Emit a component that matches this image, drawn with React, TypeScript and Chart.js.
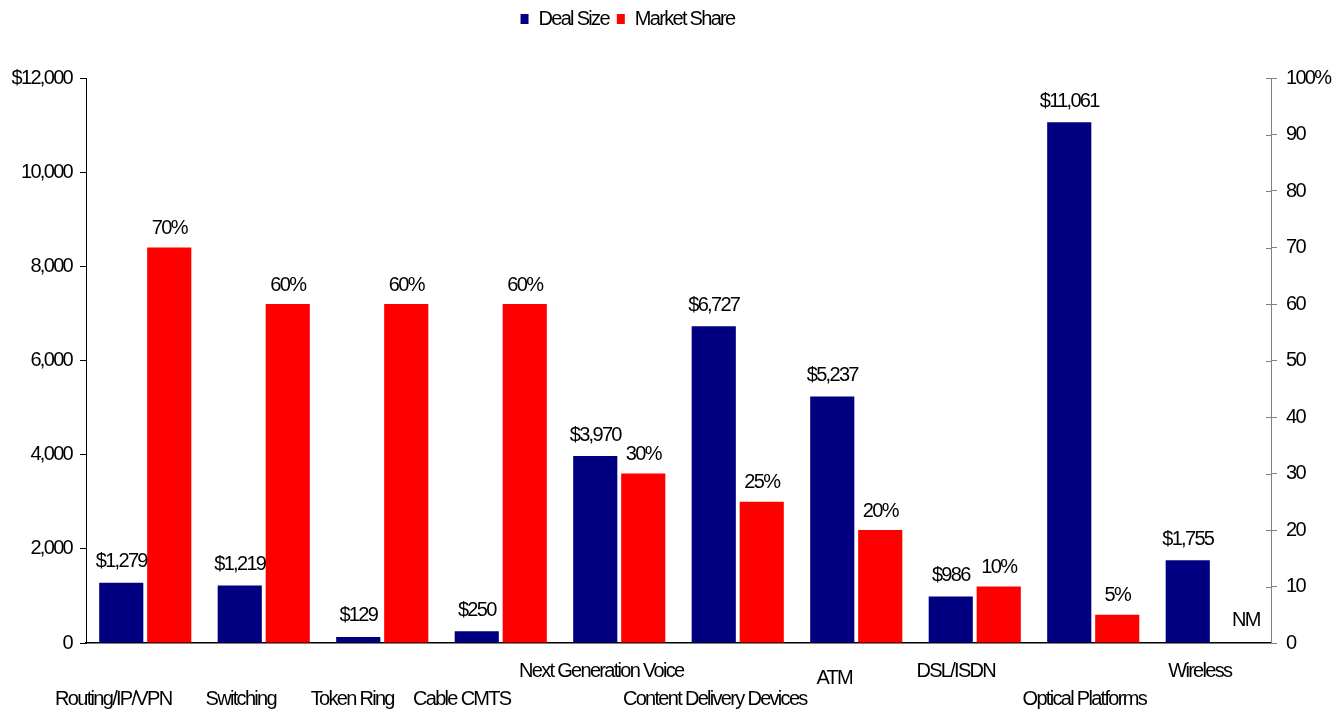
import { useEffect, useRef } from 'react';
import { Chart, registerables } from 'chart.js';

Chart.register(...registerables);

const categories = [
  'Routing/IP/VPN',
  'Switching',
  'Token Ring',
  'Cable CMTS',
  'Next Generation Voice',
  'Content Delivery Devices',
  'ATM',
  'DSL/ISDN',
  'Optical Platforms',
  'Wireless',
];
const dealSize = [1279, 1219, 129, 250, 3970, 6727, 5237, 986, 11061, 1755];
const marketShare: (number | null)[] = [70, 60, 60, 60, 30, 25, 20, 10, 5, null];
const leftTickLabels = ['0', '2,000', '4,000', '6,000', '8,000', '10,000', '$12,000'];
const rightTickLabels = ['0', '10', '20', '30', '40', '50', '60', '70', '80', '90', '100%'];
const missingLabel = 'NM';

// styling (not data)
const FONT = "'Liberation Sans', Arial, sans-serif";
const FS = 20;
const LS = '-1.7px';
const xLabelDy = [56, 56, 56, 56, 28, 56, 35, 28, 56, 28];
const xLabelDx = [-32, -23, -30, -39, -18, -23, -22, -19, -9, -12];

export default function App() {
  const ref = useRef<HTMLCanvasElement>(null);

  useEffect(() => {
    const canvas = ref.current;
    if (!canvas) return;

    const spacing = {
      id: 'spacing',
      beforeUpdate(chart: any) {
        chart.ctx.letterSpacing = LS;
      },
      beforeDraw(chart: any) {
        chart.ctx.letterSpacing = LS;
      },
      afterInit(chart: any) {
        const lg = chart.legend;
        if (lg) {
          const orig = lg.fit.bind(lg);
          lg.fit = function () {
            orig();
            this.height = 78;
            this.minSize = { width: this.width, height: 78 };
          };
          const origDraw = lg.draw.bind(lg);
          lg.draw = function () {
            const c = this.ctx;
            c.save();
            c.translate(-44, 1);
            origDraw();
            c.restore();
          };
        }
      },
    };

    const labelsPlugin = {
      id: 'valueLabels',
      afterDatasetsDraw(chart: any) {
        const ctx = chart.ctx;
        ctx.save();
        // inner halves of right-axis ticks
        const y1 = chart.scales.y1;
        ctx.strokeStyle = '#808080';
        ctx.lineWidth = 1;
        y1.ticks.forEach((t: any) => {
          const py = Math.round(y1.getPixelForValue(t.value)) + 0.5;
          ctx.beginPath();
          ctx.moveTo(y1.left - 5, py);
          ctx.lineTo(y1.left, py);
          ctx.stroke();
        });

        ctx.letterSpacing = LS;
        ctx.font = `${FS}px ${FONT}`;
        ctx.fillStyle = '#000';
        ctx.textAlign = 'center';
        ctx.textBaseline = 'middle';
        const m0 = chart.getDatasetMeta(0);
        m0.data.forEach((el: any, i: number) => {
          ctx.fillText('$' + dealSize[i].toLocaleString('en-US'), el.x, el.y - 21);
        });
        const m1 = chart.getDatasetMeta(1);
        m1.data.forEach((el: any, i: number) => {
          const v = marketShare[i];
          if (v == null) {
            ctx.fillText(missingLabel, el.x + 10, y1.getPixelForValue(0) - 23);
          } else {
            ctx.fillText(v + '%', el.x, el.y - 19);
          }
        });
        // category labels
        const xs = chart.scales.x;
        const base = chart.chartArea.bottom;
        categories.forEach((c, i) => {
          ctx.fillText(c, xs.getPixelForValue(i) + xLabelDx[i], base + xLabelDy[i]);
        });
        ctx.restore();
      },
    };

    const chart = new Chart(canvas, {
      type: 'bar',
      data: {
        labels: categories,
        datasets: [
          {
            label: 'Deal Size',
            data: dealSize,
            backgroundColor: '#000080',
            borderWidth: 0,
            yAxisID: 'y',
            barPercentage: 0.92,
            categoryPercentage: 0.81,
          },
          {
            label: 'Market Share',
            data: marketShare,
            backgroundColor: '#FF0000',
            borderWidth: 0,
            yAxisID: 'y1',
            barPercentage: 0.92,
            categoryPercentage: 0.81,
          },
        ],
      },
      options: {
        animation: false,
        responsive: true,
        maintainAspectRatio: false,
        layout: { padding: 0 },
        plugins: {
          tooltip: { enabled: false },
          legend: {
            position: 'top',
            labels: {
              color: '#000',
              font: { family: FONT, size: FS },
              boxWidth: 8,
              boxHeight: 10,
              padding: 8,
            },
          },
        },
        scales: {
          x: {
            grid: { display: false },
            border: { display: true, color: '#000', width: 1.5 },
            ticks: { display: false },
            afterFit(s: any) {
              s.height = 74;
            },
          },
          y: {
            position: 'left',
            min: 0,
            max: 12000,
            ticks: {
              stepSize: 2000,
              color: '#000',
              font: { family: FONT, size: FS },
              padding: 8,
              callback: (_v: any, i: number) => leftTickLabels[i],
            },
            grid: {
              display: true,
              drawOnChartArea: false,
              drawTicks: true,
              tickLength: 6,
              color: '#000',
            },
            border: { display: true, color: '#000' },
            afterFit(s: any) {
              s.width = 86;
            },
          },
          y1: {
            position: 'right',
            min: 0,
            max: 100,
            ticks: {
              stepSize: 10,
              color: '#000',
              font: { family: FONT, size: FS },
              padding: 9,
              callback: (_v: any, i: number) => rightTickLabels[i],
            },
            grid: {
              display: true,
              drawOnChartArea: false,
              drawTicks: true,
              tickLength: 6,
              color: '#808080',
            },
            border: { display: true, color: '#808080' },
            afterFit(s: any) {
              s.width = 72;
            },
          },
        },
      },
      plugins: [spacing, labelsPlugin],
    } as any);

    return () => chart.destroy();
  }, []);

  return (
    <div style={{ position: 'fixed', left: 0, top: 0, width: 1343, height: 717, background: '#fff' }}>
      <canvas ref={ref} />
    </div>
  );
}
